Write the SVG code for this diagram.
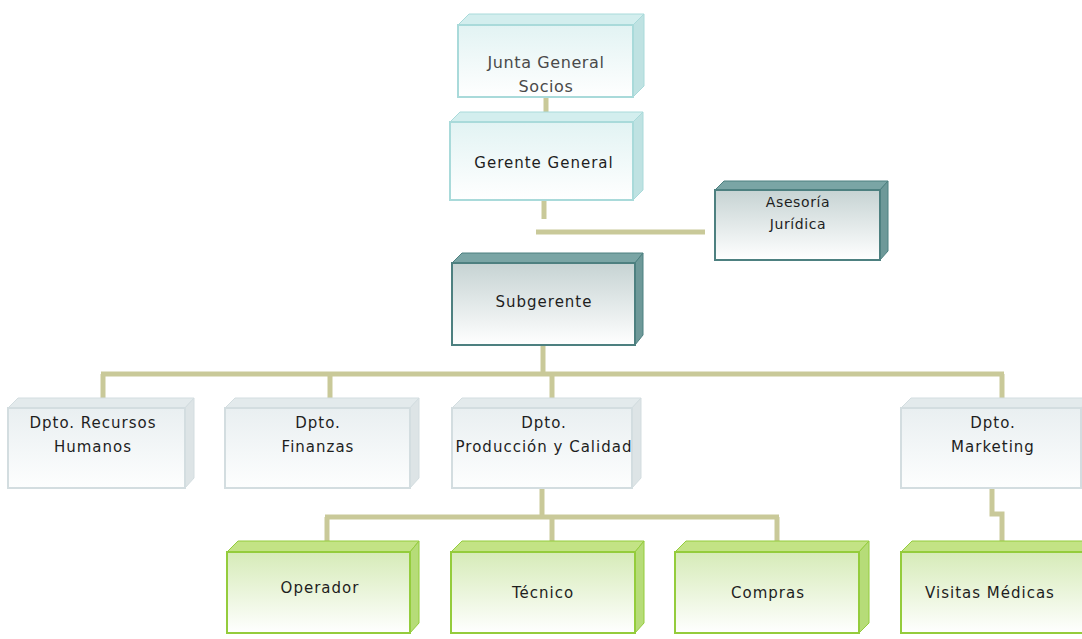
<svg xmlns="http://www.w3.org/2000/svg" width="1082" height="639" viewBox="0 0 1082 639">
<defs>
<linearGradient id="gCyan" x1="0" y1="0" x2="0" y2="1"><stop offset="0" stop-color="#e2f3f3"/><stop offset="1" stop-color="#ffffff"/></linearGradient>
<linearGradient id="gDark" x1="0" y1="0" x2="0" y2="1"><stop offset="0" stop-color="#c6d3d3"/><stop offset="1" stop-color="#ffffff"/></linearGradient>
<linearGradient id="gGray" x1="0" y1="0" x2="0" y2="1"><stop offset="0" stop-color="#e9eff1"/><stop offset="1" stop-color="#fdfefe"/></linearGradient>
<linearGradient id="gGreen" x1="0" y1="0" x2="0" y2="1"><stop offset="0" stop-color="#d6ebb8"/><stop offset="1" stop-color="#ffffff"/></linearGradient>
</defs>
<style>
.conn{fill:none;stroke:#c9c999;stroke-width:5}
text{font-family:"DejaVu Sans",Verdana,sans-serif;font-size:15px;letter-spacing:1px;fill:#1e1e1e;text-anchor:middle}
.sm{font-size:14px;letter-spacing:0.6px}
.lg{font-size:16px;letter-spacing:0.6px;fill:#4a4a4a}
.cyan .front{fill:url(#gCyan);stroke:#a9dada;stroke-width:2}
.cyan .top{fill:#d3eeee;stroke:#a9dada;stroke-width:1}
.cyan .side{fill:#bfe2e2;stroke:#a9dada;stroke-width:1}
.dark .front{fill:url(#gDark);stroke:#4d8080;stroke-width:2}
.dark .top{fill:#7aa5a5;stroke:#4d8080;stroke-width:1}
.dark .side{fill:#6e9999;stroke:#4d8080;stroke-width:1}
.gray .front{fill:url(#gGray);stroke:#d3dde0;stroke-width:2}
.gray .top{fill:#e3eaec;stroke:#d3dde0;stroke-width:1}
.gray .side{fill:#dde4e6;stroke:#d3dde0;stroke-width:1}
.green .front{fill:url(#gGreen);stroke:#94cc3c;stroke-width:2}
.green .top{fill:#c3e385;stroke:#94cc3c;stroke-width:1}
.green .side{fill:#b6dc78;stroke:#94cc3c;stroke-width:1}
</style>
<rect width="1082" height="639" fill="#ffffff"/>

<g id="connectors">
<path class="conn" d="M546 97V122"/>
<path class="conn" d="M544 200V219"/>
<path class="conn" d="M536 232H705"/>
<path class="conn" d="M543 345V374"/>
<path class="conn" d="M101 374H1004"/>
<path class="conn" d="M103 374V399"/>
<path class="conn" d="M330 374V399"/>
<path class="conn" d="M552 374V399"/>
<path class="conn" d="M1002 374V399"/>
<path class="conn" d="M542 488V517"/>
<path class="conn" d="M325 517H779"/>
<path class="conn" d="M327 517V542"/>
<path class="conn" d="M552 517V542"/>
<path class="conn" d="M777 517V542"/>
<path class="conn" d="M992 488V514H1002V542"/>
</g>

<g id="junta" class="cyan">
<polygon class="top" points="458,25 469,14 644,14 633,25"/>
<polygon class="side" points="633,25 644,14 644,86 633,97"/>
<rect class="front" x="458" y="25" width="175" height="72"/>
<text class="lg" x="546" y="68">Junta General</text>
<text class="lg" x="546" y="92">Socios</text>
</g>

<g id="gerente" class="cyan">
<polygon class="top" points="450,122 460,112 643,112 633,122"/>
<polygon class="side" points="633,122 643,112 643,190 633,200"/>
<rect class="front" x="450" y="122" width="183" height="78"/>
<text x="544" y="168">Gerente General</text>
</g>

<g id="asesoria" class="dark">
<polygon class="top" points="715,190 724,181 888,181 880,190"/>
<polygon class="side" points="880,190 888,181 888,251 880,260"/>
<rect class="front" x="715" y="190" width="165" height="70"/>
<text class="sm" x="798" y="207">Asesoría</text>
<text class="sm" x="798" y="229">Jurídica</text>
</g>

<g id="subgerente" class="dark">
<polygon class="top" points="452,263 462,253 643,253 635,263"/>
<polygon class="side" points="635,263 643,253 643,335 635,345"/>
<rect class="front" x="452" y="263" width="183" height="82"/>
<text x="544" y="307">Subgerente</text>
</g>

<g id="rrhh" class="gray">
<polygon class="top" points="8,408 18,398 194,398 185,408"/>
<polygon class="side" points="185,408 194,398 194,478 185,488"/>
<rect class="front" x="8" y="408" width="177" height="80"/>
<text x="93" y="428">Dpto. Recursos</text>
<text x="93" y="452">Humanos</text>
</g>

<g id="finanzas" class="gray">
<polygon class="top" points="225,408 235,398 419,398 410,408"/>
<polygon class="side" points="410,408 419,398 419,478 410,488"/>
<rect class="front" x="225" y="408" width="185" height="80"/>
<text x="318" y="428">Dpto.</text>
<text x="318" y="452">Finanzas</text>
</g>

<g id="produccion" class="gray">
<polygon class="top" points="452,408 462,398 641,398 632,408"/>
<polygon class="side" points="632,408 641,398 641,478 632,488"/>
<rect class="front" x="452" y="408" width="180" height="80"/>
<text x="544" y="428">Dpto.</text>
<text x="544" y="452">Producción y Calidad</text>
</g>

<g id="marketing" class="gray">
<polygon class="top" points="901,408 911,398 1090,398 1081,408"/>
<rect class="front" x="901" y="408" width="180" height="80"/>
<text x="993" y="428">Dpto.</text>
<text x="993" y="452">Marketing</text>
</g>

<g id="operador" class="green">
<polygon class="top" points="227,552 238,541 419,541 410,552"/>
<polygon class="side" points="410,552 419,541 419,623 410,633"/>
<rect class="front" x="227" y="552" width="183" height="81"/>
<text x="320" y="593">Operador</text>
</g>

<g id="tecnico" class="green">
<polygon class="top" points="451,552 462,541 644,541 635,552"/>
<polygon class="side" points="635,552 644,541 644,623 635,633"/>
<rect class="front" x="451" y="552" width="184" height="81"/>
<text x="543" y="598">Técnico</text>
</g>

<g id="compras" class="green">
<polygon class="top" points="675,552 686,541 869,541 859,552"/>
<polygon class="side" points="859,552 869,541 869,623 859,633"/>
<rect class="front" x="675" y="552" width="184" height="81"/>
<text x="768" y="598">Compras</text>
</g>

<g id="visitas" class="green">
<polygon class="top" points="901,552 912,541 1090,541 1085,552"/>
<rect class="front" x="901" y="552" width="190" height="81"/>
<text x="990" y="598">Visitas Médicas</text>
</g>
</svg>
